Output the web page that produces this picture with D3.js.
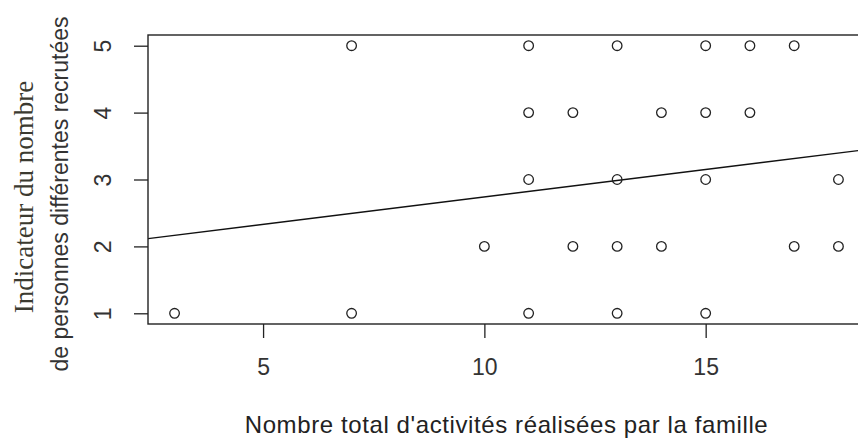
<!DOCTYPE html>
<html>
<head>
<meta charset="utf-8">
<script src="https://cdn.jsdelivr.net/npm/d3@7"></script>
<style>
  body { margin: 0; background: #fff; }
  svg { display: block; }
  .axis path, .axis line { stroke: #222; stroke-width: 1.3px; }
  .axis text { font-family: "Liberation Sans", Arial, sans-serif; font-size: 23px; fill: #333; }
</style>
</head>
<body>
<svg id="chart" width="858" height="439"></svg>
<script>
// activities done by the family (x) and recruitment indicator (y)
var activites = [7, 11, 13, 15, 16, 17,
                 11, 12, 14, 15, 16,
                 11, 13, 15, 18,
                 10, 12, 13, 14, 17, 18,
                 3, 7, 11, 13, 15];
var indicateur = [5, 5, 5, 5, 5, 5,
                  4, 4, 4, 4, 4,
                  3, 3, 3, 3,
                  2, 2, 2, 2, 2, 2,
                  1, 1, 1, 1, 1];
var xTicks = [5, 10, 15];
var yTicks = [1, 2, 3, 4, 5];
// abline(lm(...))
var intercept = 1.92, slope = 0.082;

var svg = d3.select("#chart");
var plotL = 148, plotR = 865, plotT = 35, plotB = 324;

var x = d3.scaleLinear().domain([2.4, 18.6]).range([plotL, plotR]);
var y = d3.scaleLinear().domain([0.84, 5.16]).range([plotB, plotT]);

svg.append("rect").attr("width", 858).attr("height", 439).attr("fill", "#fff");

// x axis
var gx = svg.append("g")
    .attr("class", "axis")
    .attr("transform", "translate(0," + plotB + ")")
    .call(d3.axisBottom(x).tickValues(xTicks).tickSize(14).tickPadding(21).tickFormat(d3.format("d")));
gx.select(".domain").remove();

// y axis, labels turned like R does
var gy = svg.append("g")
    .attr("class", "axis")
    .attr("transform", "translate(" + plotL + ",0)")
    .call(d3.axisLeft(y).tickValues(yTicks).tickSize(14).tickFormat(d3.format("d")));
gy.select(".domain").remove();
gy.selectAll(".tick text")
    .attr("x", null).attr("dy", null)
    .attr("text-anchor", "middle")
    .attr("transform", "translate(-37,0) rotate(-90)");

// clip for the plot region
svg.append("clipPath").attr("id", "clip")
  .append("rect").attr("x", plotL).attr("y", plotT).attr("width", plotR - plotL).attr("height", plotB - plotT);

// regression line
svg.append("line")
    .attr("clip-path", "url(#clip)")
    .attr("x1", x(2.4)).attr("y1", y(intercept + slope * 2.4))
    .attr("x2", x(18.6)).attr("y2", y(intercept + slope * 18.6))
    .attr("stroke", "#111").attr("stroke-width", 1.4);

// points
svg.selectAll(".pt")
  .data(activites.map(function(d, i){ return [d, indicateur[i]]; }))
  .enter().append("circle")
    .attr("class", "pt")
    .attr("cx", function(d){ return x(d[0]); })
    .attr("cy", function(d){ return y(d[1]); })
    .attr("r", 4.8)
    .attr("fill", "none")
    .attr("stroke", "#222")
    .attr("stroke-width", 1.3);

// box
svg.append("rect")
    .attr("x", plotL).attr("y", plotT)
    .attr("width", plotR - plotL).attr("height", plotB - plotT)
    .attr("fill", "none").attr("stroke", "#222").attr("stroke-width", 1.4);

// axis titles
svg.append("text")
    .attr("x", (plotL + plotR) / 2).attr("y", 433)
    .attr("text-anchor", "middle")
    .style("font-family", "'Liberation Sans', Arial, sans-serif")
    .style("font-size", "24px").style("letter-spacing", "0.6px").style("fill", "#222")
    .text("Nombre total d'activités réalisées par la famille");

svg.append("text")
    .attr("transform", "translate(33,197) rotate(-90)")
    .attr("text-anchor", "middle")
    .style("font-family", "'Liberation Serif', 'Times New Roman', serif")
    .style("font-size", "27px").style("fill", "#3b3a30")
    .text("Indicateur du nombre");

svg.append("text")
    .attr("transform", "translate(68,194) rotate(-90)")
    .attr("text-anchor", "middle")
    .style("font-family", "'Liberation Sans', Arial, sans-serif")
    .style("font-size", "23px").style("fill", "#333")
    .text("de personnes différentes recrutées");
</script>
</body>
</html>
